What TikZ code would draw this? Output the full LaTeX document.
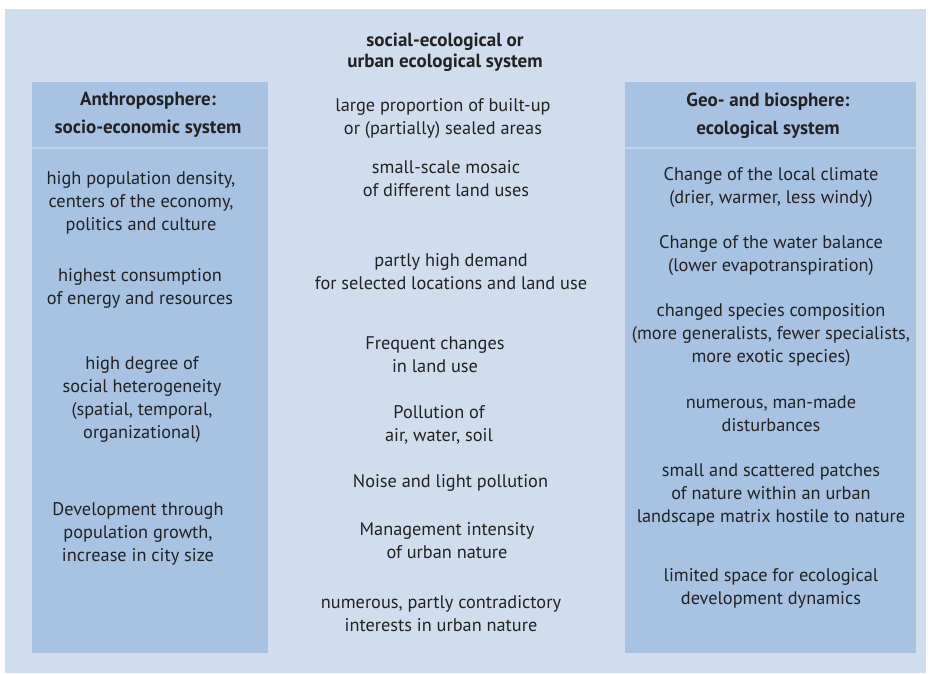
\documentclass[tikz,border=0pt]{standalone}
\usepackage{fontspec}
\setmainfont{PT Sans}
\usepackage{xcolor}
\usepackage{tikz}
\definecolor{bluepale}{HTML}{D0DDEF}
\definecolor{bluebox}{HTML}{A8C2E2}
\definecolor{bluerule}{HTML}{C3D4EA}
\definecolor{graytext}{HTML}{222222}
\tikzset{every node/.append style={font=\fontsize{18.3}{23}\selectfont,text=graytext,
  align=center,inner sep=0pt,execute at begin node=\strut,execute at end node=\strut}}
\tikzset{headtext/.style={font=\bfseries\fontsize{19}{28}\selectfont},
  titletext/.style={font=\bfseries\fontsize{19}{21}\selectfont}}

\begin{document}
\begin{tikzpicture}[x=1pt,y=-1pt]
  \useasboundingbox (0,0) rectangle (934,674);
  \fill[bluepale] (5,9) rectangle (926,673);
  \fill[bluebox] (32,82) rectangle (268,653);
  \fill[bluebox] (625,82) rectangle (916,653);
  \draw[bluerule,line width=2.2pt] (32,148) -- (268,148);
  \draw[bluerule,line width=2.2pt] (625,148) -- (916,148);

  \node[titletext] (title) at (445,53) {social-ecological or\\urban ecological system};
  \node[headtext] (anthrohead) at (148,117.5) {Anthroposphere:\\socio-economic system};
  \node[headtext] (ecohead) at (768,117.5) {Geo- and biosphere:\\ecological system};

  \node (density) at (141,204.5) {high population density,\\centers of the economy,\\politics and culture};
  \node (consumption) at (140,289.5) {highest consumption\\of energy and resources};
  \node (heterogeneity) at (142,400.5) {high degree of\\social heterogeneity\\(spatial, temporal,\\organizational)};
  \node (growth) at (138,535.5) {Development through\\population growth,\\increase in city size};

  \node (builtup) at (443,120) {large proportion of built-up\\or (partially) sealed areas};
  \node (mosaic) at (446,182) {small-scale mosaic\\of different land uses};
  \node (demand) at (451,275) {partly high demand\\for selected locations and land use};
  \node (landuse) at (435,358.5) {Frequent changes\\in land use};
  \node (pollution) at (439,427) {Pollution of\\air, water, soil};
  \node (noise) at (450.5,483) {Noise and light pollution};
  \node (management) at (447,543.5) {Management intensity\\of urban nature};
  \node (interests) at (441,617) {numerous, partly contradictory\\interests in urban nature};

  \node (climate) at (771,188.5) {Change of the local climate\\(drier, warmer, less windy)};
  \node (water) at (771,257) {Change of the water balance\\(lower evapotranspiration)};
  \node (species) at (771,336.5) {changed species composition\\(more generalists, fewer specialists,\\more exotic species)};
  \node (disturb) at (771,417) {numerous, man-made\\disturbances};
  \node (patches) at (771,496.5) {small and scattered patches\\of nature within an urban\\landscape matrix hostile to nature};
  \node (space) at (771,589.5) {limited space for ecological\\development dynamics};
\end{tikzpicture}
\end{document}
